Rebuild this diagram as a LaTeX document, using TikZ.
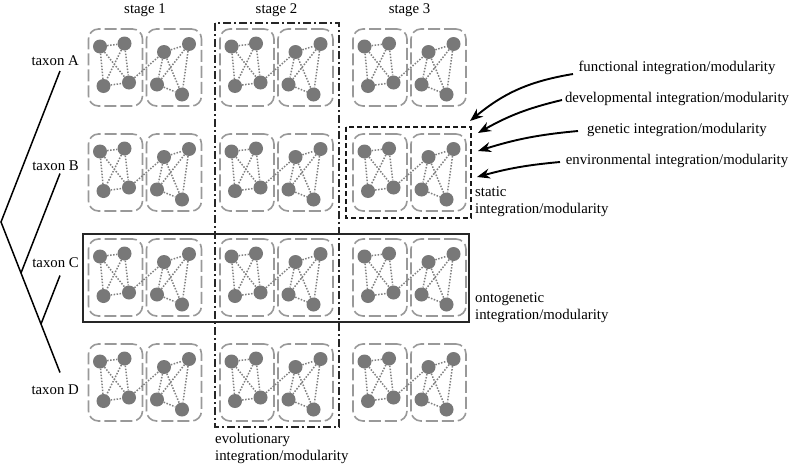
\documentclass[tikz,border=0pt]{standalone}
\usepackage{fontspec}
\setmainfont{Liberation Serif}
\usetikzlibrary{arrows.meta}
\begin{document}
\begin{tikzpicture}[x=1pt,y=-1pt,
  cellbox/.style={draw=black!40, line width=1.6pt, dash pattern=on 12pt off 4pt, rounded corners=10pt, minimum height=77pt, inner sep=0pt},
  dot/.style={circle, fill=black!53, minimum size=14pt, inner sep=0pt},
  link/.style={draw=black!50, line width=1.5pt, dash pattern=on 1.5pt off 1.5pt},
  lab/.style={font=\fontsize{14.8}{17}\selectfont, inner sep=0pt},
  tree/.style={line width=1.5pt, black},
  evoframe/.style={draw=black!85, line width=1.4pt, dash pattern=on 8pt off 3pt on 2pt off 3pt},
  statframe/.style={draw=black!90, line width=1.5pt, dash pattern=on 5pt off 3pt},
  ontoframe/.style={draw=black!85, line width=1.4pt},
  pointer/.style={line width=1.9pt, -{Stealth[length=13pt,width=10pt]}}
]
\useasboundingbox (0,0) rectangle (792,463);

% cells
\foreach \r/\ty in {0/29,1/134,2/239,3/344}{
  \foreach \c/\cx in {0/88.5,1/220,2/353}{
    \node[cellbox, minimum width=54pt] (L\r\c) at (\cx+27,\ty+38.5) {};
    \node[cellbox, minimum width=55pt] (R\r\c) at (\cx+85.5,\ty+38.5) {};
    \node[dot] (a\r\c) at (\cx+11.5,\ty+17.5) {};
    \node[dot] (b\r\c) at (\cx+36,\ty+14.5) {};
    \node[dot] (c\r\c) at (\cx+15,\ty+57) {};
    \node[dot] (d\r\c) at (\cx+40.5,\ty+53.5) {};
    \node[dot] (e\r\c) at (\cx+75.5,\ty+23) {};
    \node[dot] (f\r\c) at (\cx+100.5,\ty+15) {};
    \node[dot] (g\r\c) at (\cx+68.5,\ty+55.5) {};
    \node[dot] (h\r\c) at (\cx+93.5,\ty+65.5) {};
    \draw[link] (a\r\c)--(b\r\c) (a\r\c)--(c\r\c) (a\r\c)--(d\r\c)
                (b\r\c)--(c\r\c) (b\r\c)--(d\r\c) (c\r\c)--(d\r\c)
                (e\r\c)--(f\r\c) (e\r\c)--(g\r\c) (e\r\c)--(h\r\c)
                (f\r\c)--(g\r\c) (f\r\c)--(h\r\c) (g\r\c)--(h\r\c)
                (d\r\c)--(e\r\c);
  }
}

% frames
\draw[evoframe] (215,23) rectangle (339,427);
\draw[statframe] (346,127) rectangle (471,218);
\draw[ontoframe] (83,234) rectangle (469,322);

% stage labels
\node[lab, anchor=base] (s1) at (145,13) {stage 1};
\node[lab, anchor=base] (s2) at (276.5,13) {stage 2};
\node[lab, anchor=base] (s3) at (409.5,13) {stage 3};

% taxon labels
\node[lab, anchor=base east] (tA) at (79,65) {taxon A};
\node[lab, anchor=base east] (tB) at (79,170) {taxon B};
\node[lab, anchor=base east] (tC) at (79,267) {taxon C};
\node[lab, anchor=base east] (tD) at (79,394) {taxon D};

% tree
\coordinate (root) at (1,222);
\coordinate (nB) at (21,273);
\coordinate (nC) at (41,324);
\coordinate (pA) at (60,71);
\coordinate (pB) at (60,173.5);
\coordinate (pC) at (60,275.5);
\coordinate (pD) at (60,372.5);
\draw[tree] (pA) -- (root) -- (pD);
\draw[tree] (nB) -- (pB);
\draw[tree] (nC) -- (pC);

% right labels
\node[lab, anchor=base] (fun) at (677,71) {functional integration/modularity};
\node[lab, anchor=base] (dev) at (677,102) {developmental integration/modularity};
\node[lab, anchor=base] (gen) at (677,133) {genetic integration/modularity};
\node[lab, anchor=base] (env) at (677,164) {environmental integration/modularity};

\coordinate (s1a) at (573,74);
\coordinate (t1a) at (470,121);
\coordinate (s2a) at (562,100);
\coordinate (t2a) at (478,133);
\coordinate (s3a) at (578,131);
\coordinate (t3a) at (478,151);
\coordinate (s4a) at (560,162);
\coordinate (t4a) at (477,177);
\draw[pointer] (s1a) to[bend right=15] (t1a);
\draw[pointer] (s2a) to[bend right=8] (t2a);
\draw[pointer] (s3a) to[bend right=6] (t3a);
\draw[pointer] (s4a) to[bend right=5] (t4a);

% frame captions
\node[lab, anchor=base west] (st1) at (475,196.5) {static};
\node[lab, anchor=base west] (st2) at (475,213.5) {integration/modularity};
\node[lab, anchor=base west] (on1) at (475,302) {ontogenetic};
\node[lab, anchor=base west] (on2) at (475,319) {integration/modularity};
\node[lab, anchor=base west] (ev1) at (215,443) {evolutionary};
\node[lab, anchor=base west] (ev2) at (215,460) {integration/modularity};
\end{tikzpicture}
\end{document}
